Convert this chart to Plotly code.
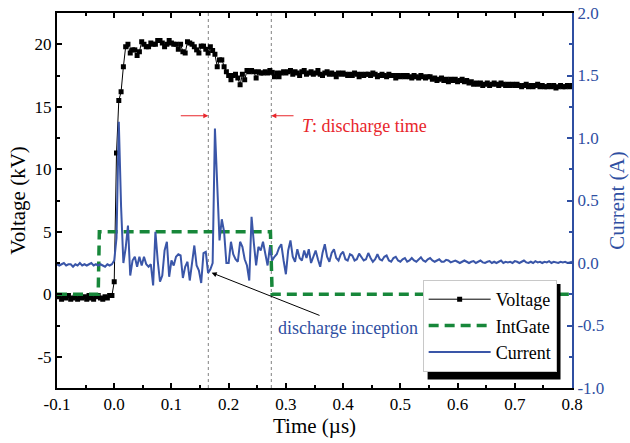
import numpy as np
import plotly.graph_objects as go

# ---------------- data ----------------
dt = 0.004  # sampling interval in µs
t_start = -0.1

voltage_kv = [
    # -0.100 .. -0.004
    -0.2, -0.1, -0.4, -0.2, -0.3, -0.1, -0.4, -0.3, -0.2, -0.4, -0.1, -0.3, -0.2,
    -0.4, -0.1, -0.3, -0.4, -0.2, -0.1, -0.3, -0.4, -0.2, -0.3, -0.1, -0.1,
    # 0.000 .. 0.024 (rise)
    1.0, 11.3, 15.5, 16.2, 18.2, 19.8, 20.0,
    # 0.028 .. 0.172 (plateau)
    19.3, 19.55, 19.55, 19.1, 19.4, 20.2, 20.0, 19.8, 19.8, 20.1, 20.0, 20.0, 20.3,
    20.3, 20.1, 19.8, 20.0, 20.3, 20.1, 20.0, 20.0, 19.6, 20.0, 19.4, 19.3, 20.2,
    20.1, 20.0, 19.8, 19.55, 19.3, 19.85, 19.85, 19.6, 19.3, 19.8, 19.5,
    # 0.176 .. 0.304 (drop)
    19.2, 18.2, 18.75, 18.75, 18.2, 17.8, 17.5, 17.16, 17.5, 17.6, 17.3, 16.76,
    17.6, 17.16, 17.9, 17.8, 17.9, 17.8, 17.3, 17.8, 17.7, 17.7, 17.8, 17.7, 17.9,
    17.75, 17.4, 17.7, 17.4, 17.7, 17.8, 17.7, 17.8,
    # 0.308 .. 0.400
    17.9, 17.6, 17.8, 17.7, 17.5, 17.8, 17.9, 17.6, 17.7, 17.8, 17.6, 17.7, 17.9,
    17.6, 17.5, 17.7, 17.8, 17.6, 17.7, 17.6, 17.4, 17.7, 17.6, 17.7,
    # 0.404 .. 0.500
    17.6, 17.5, 17.6, 17.5, 17.7, 17.6, 17.4, 17.6, 17.5, 17.6, 17.6, 17.5, 17.7,
    17.6, 17.4, 17.5, 17.6, 17.5, 17.4, 17.6, 17.5, 17.5, 17.3, 17.5, 17.4,
    # 0.504 .. 0.600
    17.5, 17.4, 17.5, 17.4, 17.3, 17.5, 17.4, 17.3, 17.5, 17.4, 17.3, 17.4, 17.4,
    17.2, 17.3, 17.1, 17.2, 17.3, 17.1, 17.2, 17.0, 17.2, 17.1, 17.2, 17.0,
    # 0.604 .. 0.700
    17.1, 17.2, 17.0, 17.1, 16.9, 17.0, 16.8, 16.9, 16.8, 16.9, 16.7, 16.8, 16.9,
    16.7, 16.8, 16.9, 16.8, 16.7, 16.9, 16.8, 16.7, 16.8, 16.7, 16.8, 16.7,
    # 0.704 .. 0.800
    16.8, 16.7, 16.6, 16.7, 16.8, 16.6, 16.7, 16.6, 16.7, 16.8, 16.6, 16.7, 16.6,
    16.6, 16.7, 16.6, 16.7, 16.5, 16.6, 16.7, 16.6, 16.6, 16.7, 16.6, 16.7,
]

current_a = [
    # -0.100 .. -0.004
    -0.01, -0.02, -0.01, 0.00, -0.02, -0.01, -0.01, -0.03, -0.01, -0.02, 0.00, -0.02,
    -0.01, -0.02, -0.01, 0.00, -0.02, -0.01, -0.02, -0.01, -0.02, -0.03, -0.01, -0.02,
    -0.01,
    # 0.000 .. 0.260
    0.02, 0.20, 1.13, 0.45, 0.00, 0.12, 0.30, -0.10, 0.02, 0.05, -0.03, 0.05, -0.02,
    0.05, -0.01, -0.03, -0.01, -0.18, 0.25, 0.02, -0.15, -0.10, 0.10, 0.17, -0.11,
    0.02, -0.02, 0.05, 0.07, 0.06, -0.12, -0.03, 0.01, -0.14, 0.00, 0.14, -0.02,
    -0.06, -0.16, 0.08, 0.09, -0.08, -0.05, 0.00, 1.075, 0.55, 0.18, 0.35, 0.25,
    0.00, 0.00, 0.17, 0.07, 0.03, 0.01, 0.17, 0.13, 0.03, -0.02, -0.14, 0.37, 0.16,
    -0.02, 0.13, 0.10, 0.17,
    # 0.264 .. 0.600
    0.07, -0.02, 0.13, 0.02, 0.05, 0.07, 0.12, 0.15, 0.02, -0.09, 0.10, 0.18, 0.05,
    0.01, 0.11, 0.04, 0.02, 0.10, 0.04, 0.11, 0.00, 0.06, 0.10, 0.03, -0.03, 0.08,
    0.15, 0.05, 0.01, 0.08, 0.11, 0.04, 0.02, 0.07, 0.09, 0.03, 0.02, 0.07, 0.06,
    0.02, 0.03, 0.075, 0.05, 0.02, 0.03, 0.08, 0.04, 0.01, 0.03, 0.07, 0.03, 0.02,
    0.05, 0.06, 0.02, 0.01, 0.04, 0.05, 0.02, 0.01, 0.03, 0.04, 0.01, 0.02, 0.04,
    0.02, 0.01, 0.03, 0.045, 0.02, 0.01, 0.03, 0.04, 0.02, 0.01, 0.02, 0.03, 0.01,
    0.01, 0.025, 0.02, 0.005, 0.01, 0.02, 0.01,
    # 0.604 .. 0.800
    0.00, 0.01, 0.02, 0.01, 0.00, 0.01, 0.015, 0.00, 0.01, 0.02, 0.005, 0.00, 0.01,
    0.015, 0.00, 0.01, 0.00, 0.01, 0.02, 0.00, 0.01, 0.005, 0.01, 0.00, 0.015, 0.01,
    0.00, 0.01, 0.02, 0.005, 0.00, 0.01, 0.00, 0.015, 0.005, 0.01, 0.00, 0.01, 0.005,
    0.015, 0.00, 0.01, 0.005, 0.00, 0.01, 0.005, 0.01, 0.00, 0.005, 0.01,
]

gate_time_us = [-0.1, -0.028, -0.026, 0.273, 0.276, 0.8]
gate_kv = [0, 0, 5, 5, 0, 0]

marker_times_us = [0.1644, 0.2745]     # dotted guide lines (discharge start / end)

x_ticks = [-0.1, 0.0, 0.1, 0.2, 0.3, 0.4, 0.5, 0.6, 0.7, 0.8]
x_labels = ["-0.1", "0.0", "0.1", "0.2", "0.3", "0.4", "0.5", "0.6", "0.7", "0.8"]
y_ticks = [-5, 0, 5, 10, 15, 20]
y_labels = ["-5", "0", "5", "10", "15", "20"]
y2_ticks = [-1.0, -0.5, 0.0, 0.5, 1.0, 1.5, 2.0]
y2_labels = ["-1.0", "-0.5", "0.0", "0.5", "1.0", "1.5", "2.0"]

if len(voltage_kv) != 226 or len(current_a) != 226:
    raise ValueError(f"lengths {len(voltage_kv)} {len(current_a)}")

t_us = np.round(t_start + dt * np.arange(len(voltage_kv)), 4)

# ---------------- styles ----------------
FONT = "Liberation Serif"
BLUE = "#2F4FA2"
CUR = "#3A56A8"
GREEN = "#17873A"
RED = "#E8262B"

fig = go.Figure()
fig.add_trace(go.Scatter(
    x=t_us, y=voltage_kv, name="Voltage", mode="lines+markers",
    line=dict(color="black", width=1),
    marker=dict(symbol="square", size=5, color="black"),
))
fig.add_trace(go.Scatter(
    x=gate_time_us, y=gate_kv, name="IntGate", mode="lines",
    line=dict(color=GREEN, width=3.5, dash="10px,6px"),
))
fig.add_trace(go.Scatter(
    x=t_us, y=current_a, name="Current", mode="lines", yaxis="y2",
    line=dict(color=CUR, width=2),
))

for tm in marker_times_us:
    fig.add_shape(type="line", xref="x", yref="paper", x0=tm, x1=tm, y0=0, y1=1,
                  line=dict(color="#808080", width=1, dash="dot"), layer="below")

# legend shadow
fig.add_shape(type="rect", xref="paper", yref="paper",
              x0=0.7196, x1=0.9777, y0=0.0227, y1=0.2773,
              fillcolor="black", line=dict(width=0), layer="above")

# red arrows for T
fig.add_annotation(x=marker_times_us[0], y=14.28, ax=0.1137, ay=14.28,
                   xref="x", yref="y", axref="x", ayref="y", text="",
                   showarrow=True, arrowhead=2, arrowsize=1, arrowwidth=1,
                   arrowcolor=RED)
fig.add_annotation(x=marker_times_us[1], y=14.28, ax=0.316, ay=14.28,
                   xref="x", yref="y", axref="x", ayref="y", text="",
                   showarrow=True, arrowhead=2, arrowsize=1, arrowwidth=1,
                   arrowcolor=RED)
fig.add_annotation(x=0.438, y=13.46, xref="x", yref="y",
                   text="<i>T</i>: discharge time", showarrow=False,
                   font=dict(family=FONT, size=18, color=RED))
# discharge inception
fig.add_annotation(x=0.1703, y=1.72, ax=0.3614, ay=-1.74,
                   xref="x", yref="y", axref="x", ayref="y", text="",
                   showarrow=True, arrowhead=2, arrowsize=1, arrowwidth=1,
                   arrowcolor="black")
fig.add_annotation(x=0.4094, y=-2.7, xref="x", yref="y",
                   text="discharge inception", showarrow=False,
                   font=dict(family=FONT, size=18, color=BLUE))

fig.update_layout(
    width=630, height=443,
    margin=dict(l=57, r=58, t=13, b=55, pad=0),
    paper_bgcolor="white", plot_bgcolor="white",
    font=dict(family=FONT, size=17, color="black"),
    showlegend=True,
    legend=dict(x=0.71, y=0.288, xanchor="left", yanchor="top",
                bgcolor="white", bordercolor="#c8c8c8", borderwidth=1,
                font=dict(family=FONT, size=18, color="black"),
                itemwidth=62, tracegroupgap=0),
    xaxis=dict(
        range=[-0.1, 0.8], tickvals=x_ticks, ticktext=x_labels,
        ticks="inside", ticklen=5, tickwidth=1.5, tickcolor="black",
        showline=True, linecolor="black", linewidth=2, mirror="ticks",
        minor=dict(ticks="inside", ticklen=3, tickwidth=1.5, dtick=0.05,
                   tickcolor="black", showgrid=False),
        showgrid=False, zeroline=False, automargin=False,
        ticklabelstandoff=0,
        title=dict(text="Time (µs)", font=dict(size=21), standoff=0),
        tickfont=dict(size=17),
    ),
    yaxis=dict(
        range=[-7.5, 22.5], tickvals=y_ticks, ticktext=y_labels,
        ticks="inside", ticklen=5, tickwidth=1.5, tickcolor="black",
        showline=True, linecolor="black", linewidth=2, mirror=False,
        minor=dict(ticks="inside", ticklen=3, tickwidth=1.5, dtick=2.5,
                   tickcolor="black", showgrid=False),
        showgrid=False, zeroline=False, automargin=False,
        title=dict(text="Voltage (kV)", font=dict(size=21), standoff=3),
        tickfont=dict(size=17),
    ),
    yaxis2=dict(
        overlaying="y", side="right", anchor="x",
        range=[-1.0, 2.0], tickvals=y2_ticks, ticktext=y2_labels,
        ticks="inside", ticklen=5, tickwidth=1.5, tickcolor=BLUE,
        showline=True, linecolor=BLUE, linewidth=2,
        minor=dict(ticks="inside", ticklen=3, tickwidth=1.5, dtick=0.25,
                   tickcolor=BLUE, showgrid=False),
        showgrid=False, zeroline=False, automargin=False,
        title=dict(text="Current (A)", font=dict(size=21, color=BLUE), standoff=6),
        tickfont=dict(size=17, color=BLUE),
    ),
)

fig.write_html("out.html", config={"displayModeBar": False},
               post_script="document.body.style.margin='0px';")
